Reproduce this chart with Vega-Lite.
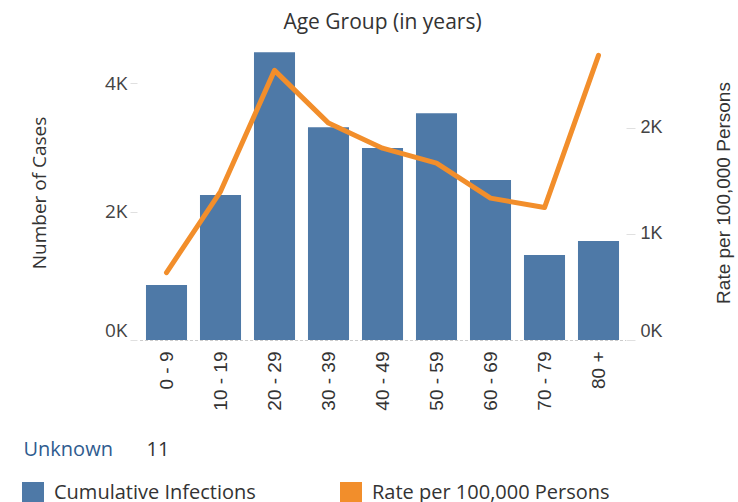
{
  "$schema": "https://vega.github.io/schema/vega-lite/v6.json",
  "width": 486,
  "height": 295,
  "autosize": {"type": "none"},
  "padding": {"left": 139.5, "top": 45, "right": 112.5, "bottom": 162},
  "background": "white",
  "title": {
    "text": "Age Group (in years)",
    "anchor": "middle",
    "frame": "group",
    "font": "Open Sans",
    "fontSize": 21,
    "fontWeight": "normal",
    "color": "#333333",
    "offset": 12
  },
  "data": {
    "values": [
      {"age": "0 - 9", "cases": 857, "rate": 635},
      {"age": "10 - 19", "cases": 2260, "rate": 1399},
      {"age": "20 - 29", "cases": 4488, "rate": 2541},
      {"age": "30 - 39", "cases": 3319, "rate": 2044},
      {"age": "40 - 49", "cases": 2992, "rate": 1808},
      {"age": "50 - 59", "cases": 3537, "rate": 1667},
      {"age": "60 - 69", "cases": 2493, "rate": 1337},
      {"age": "70 - 79", "cases": 1325, "rate": 1248},
      {"age": "80 +", "cases": 1543, "rate": 2682}
    ]
  },
  "layer": [
    {
      "mark": {"type": "bar", "color": "#4E79A7"},
      "encoding": {
        "x": {
          "field": "age",
          "type": "nominal",
          "sort": null,
          "scale": {"type": "band", "paddingInner": 0.24, "paddingOuter": 0.12},
          "axis": {
            "orient": "bottom",
            "title": null,
            "labelAngle": 270,
            "ticks": false,
            "grid": false,
            "domain": true,
            "domainColor": "#cccccc",
            "domainDash": [3, 2],
            "domainWidth": 1,
            "labelPadding": 11,
            "labelFont": "Liberation Sans",
            "labelFontSize": 19,
            "labelColor": "#333333"
          }
        },
        "y": {
          "field": "cases",
          "type": "quantitative",
          "scale": {"domain": [0, 4600], "nice": false},
          "axis": {
            "orient": "left",
            "title": "Number of Cases",
            "values": [0, 2000, 4000],
            "labelExpr": "(datum.value / 1000) + 'K'",
            "grid": false,
            "domain": false,
            "ticks": true,
            "tickColor": "#e0e0e0",
            "tickSize": 7,
            "offset": 2.5,
            "labelPadding": 3,
            "labelFlush": true,
            "labelFont": "Open Sans",
            "labelFontSize": 19,
            "labelColor": "#444444",
            "titleFont": "Open Sans",
            "titleFontSize": 19,
            "titleFontWeight": "normal",
            "titleColor": "#333333",
            "titlePadding": 55
          }
        },
        "color": {
          "datum": "Cumulative Infections",
          "type": "nominal",
          "scale": {
            "domain": ["Cumulative Infections", "Rate per 100,000 Persons"],
            "range": ["#4E79A7", "#F28E2B"]
          },
          "legend": {
            "title": null,
            "orient": "none",
            "legendX": -117.5,
            "legendY": 437,
            "direction": "horizontal",
            "symbolType": "square",
            "symbolSize": 484,
            "symbolOpacity": 1,
            "symbolStrokeWidth": 0,
            "labelFont": "Open Sans",
            "labelFontSize": 20,
            "labelColor": "#333333",
            "labelOffset": 10,
            "labelLimit": 400,
            "columnPadding": 84,
            "encode": {
              "symbols": {
                "update": {
                  "fill": {"scale": "color", "field": "value"},
                  "stroke": {"value": "transparent"}
                }
              }
            }
          }
        }
      }
    },
    {
      "mark": {"type": "line", "strokeWidth": 5, "strokeCap": "round", "strokeJoin": "round"},
      "encoding": {
        "x": {"field": "age", "type": "nominal", "sort": null, "scale": {"type": "band"}},
        "y": {
          "field": "rate",
          "type": "quantitative",
          "scale": {"domain": [0, 2780], "nice": false},
          "axis": {
            "orient": "right",
            "title": "Rate per 100,000 Persons",
            "values": [0, 1000, 2000],
            "labelExpr": "(datum.value / 1000) + 'K'",
            "grid": false,
            "domain": false,
            "ticks": true,
            "tickColor": "#e0e0e0",
            "tickSize": 9,
            "offset": 0.5,
            "labelPadding": 5,
            "labelFlush": true,
            "labelFont": "Liberation Sans",
            "labelFontSize": 18,
            "labelColor": "#444444",
            "titleFont": "Liberation Sans",
            "titleFontSize": 19,
            "titleFontWeight": "normal",
            "titleColor": "#333333",
            "titleAngle": 270,
            "titleBaseline": "top",
            "titlePadding": 52
          }
        },
        "color": {"datum": "Rate per 100,000 Persons", "type": "nominal"}
      }
    },
    {
      "data": {"values": [{"Unknown": "11"}]},
      "mark": {"type": "point", "opacity": 0},
      "encoding": {
        "shape": {
          "field": "Unknown",
          "type": "nominal",
          "legend": {
            "title": "Unknown",
            "orient": "none",
            "legendX": -116,
            "legendY": 395,
            "titleOrient": "left",
            "titleFont": "Open Sans",
            "titleFontSize": 20,
            "titleFontWeight": "normal",
            "titleColor": "#2F5C8F",
            "titlePadding": 13,
            "symbolSize": 1,
            "symbolOpacity": 0,
            "symbolStrokeWidth": 0,
            "labelOffset": 0,
            "labelFont": "Open Sans",
            "labelFontSize": 20,
            "labelColor": "#333333"
          }
        }
      }
    }
  ],
  "resolve": {"scale": {"y": "independent"}},
  "config": {"view": {"stroke": null}}
}
